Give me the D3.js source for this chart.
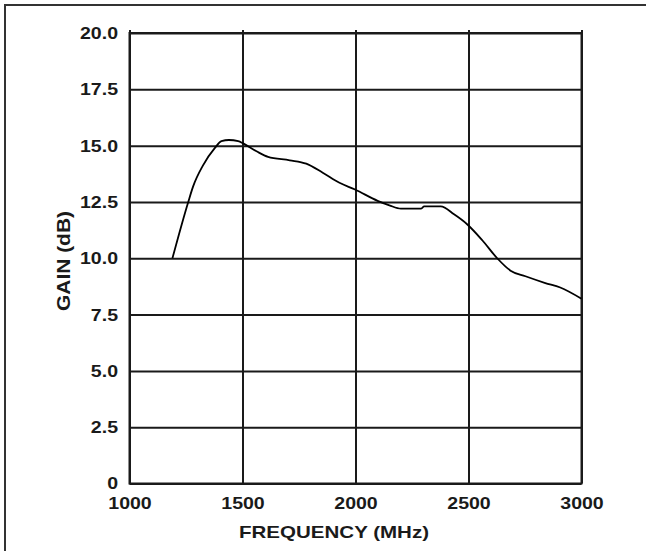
<!DOCTYPE html>
<html><head><meta charset="utf-8">
<script src="https://cdn.jsdelivr.net/npm/d3@7"></script>
<style>
html,body{margin:0;padding:0;background:#fff;}
svg{display:block;}
</style></head>
<body>
<svg id="c" width="646" height="551"></svg>
<script>
const freq = [1190,1260,1282,1324,1378,1407,1440,1481,1503,1562,1613,1709,1782,1855,1929,1998,2098,2150,2201,2289,2304,2377,2436,2495,2561,2627,2686,2752,2840,2906,3000];
const gain = [10.0,12.5,13.2,14.1,14.9,15.2,15.25,15.2,15.1,14.75,14.5,14.35,14.2,13.8,13.35,13.05,12.55,12.35,12.2,12.2,12.3,12.3,11.95,11.5,10.8,10.0,9.45,9.2,8.9,8.7,8.2];
const xTicks = [1000,1500,2000,2500,3000];
const yTicks = [0,2.5,5,7.5,10,12.5,15,17.5,20];
const xTitle = "FREQUENCY (MHz)";
const yTitle = "GAIN (dB)";

const svg = d3.select("#c");
const L=129.5, R=581.5, T=33, B=483.5;
const x = d3.scaleLinear().domain([1000,3000]).range([L,R]);
const y = d3.scaleLinear().domain([0,20]).range([B,T]);
const ink = "#1a1a1a";
const font = "'Liberation Sans', Arial, sans-serif";

// outer frame (top and left)
svg.append("line").attr("x1",4).attr("x2",646).attr("y1",5).attr("y2",5).attr("stroke","#333").attr("stroke-width",2);
svg.append("line").attr("x1",5).attr("x2",5).attr("y1",4).attr("y2",551).attr("stroke","#333").attr("stroke-width",2);

const yAxis = svg.append("g").attr("transform",`translate(${L},0)`)
  .call(d3.axisLeft(y).tickValues(yTicks).tickSizeInner(-(R-L)).tickSizeOuter(0).tickPadding(10)
    .tickFormat(d=> d===0 ? "0" : d3.format(".1f")(d)));
const xAxis = svg.append("g").attr("transform",`translate(0,${B})`)
  .call(d3.axisBottom(x).tickValues(xTicks).tickSizeInner(-(B-T)-3).tickSizeOuter(0).tickPadding(13)
    .tickFormat(d3.format("d")));

[yAxis,xAxis].forEach(a=>{
  a.select(".domain").remove();
  a.selectAll(".tick line").attr("stroke",ink).attr("stroke-width",2);
  a.selectAll(".tick text").attr("fill",ink).attr("font-family",font).attr("font-weight","bold")
    .attr("font-size",17).attr("transform","scale(1.15,1)");
});
xAxis.selectAll(".tick text").attr("y",13);

svg.append("rect").attr("x",L).attr("y",T).attr("width",R-L).attr("height",B-T)
  .attr("fill","none").attr("stroke",ink).attr("stroke-width",2);

const pts = freq.map((f,i)=>[f,gain[i]]);
svg.append("path").datum(pts)
  .attr("d", d3.line().x(d=>x(d[0])).y(d=>y(d[1])).curve(d3.curveMonotoneX))
  .attr("fill","none").attr("stroke","#000").attr("stroke-width",1.8);

svg.append("text").attr("x",334).attr("y",538).attr("text-anchor","middle")
  .attr("font-family",font).attr("font-weight","bold").attr("font-size",17)
  .attr("textLength",190).attr("lengthAdjust","spacingAndGlyphs").attr("fill",ink).text(xTitle);

svg.append("text").attr("transform","translate(70,261) rotate(-90)").attr("text-anchor","middle")
  .attr("font-family",font).attr("font-weight","bold").attr("font-size",18)
  .attr("textLength",100).attr("lengthAdjust","spacingAndGlyphs").attr("fill",ink).text(yTitle);
</script>
</body></html>
